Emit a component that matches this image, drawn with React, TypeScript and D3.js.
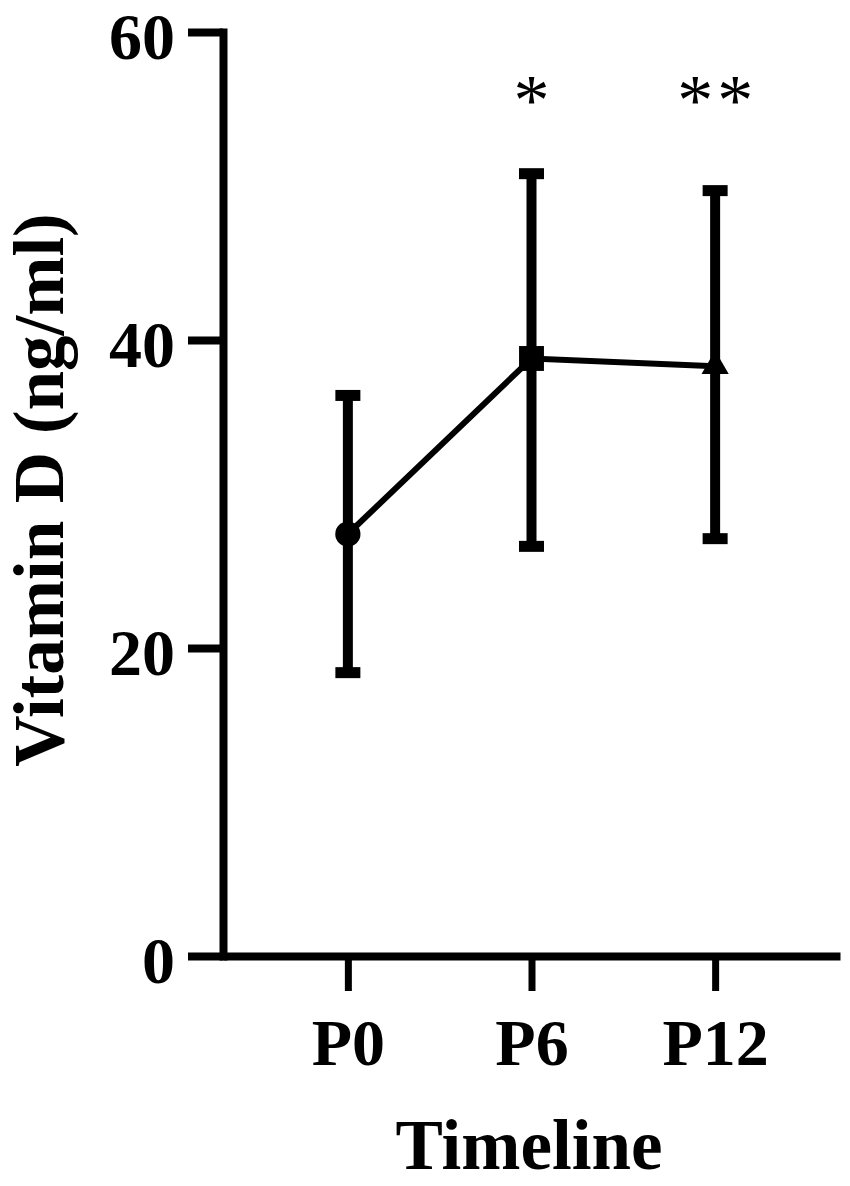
import React, { useEffect, useRef } from 'react';
import * as d3 from 'd3';

const categories = ['P0', 'P6', 'P12'];
const means = [27.4, 38.8, 38.3];
const upper = [36.4, 50.8, 49.7];
const lower = [18.4, 26.6, 27.1];
const markerShapes = ['circle', 'square', 'triangle'];
const stars = ['', '*', '**'];
const yTicks = [0, 20, 40, 60];

const font = '"Liberation Serif", "Times New Roman", serif';

const VitaminChart = () => {
  const svgRef = useRef<SVGSVGElement>(null);

  useEffect(() => {
    const svg = d3.select(svgRef.current);
    const width = 850;
    const height = 1186;
    svg.attr('width', width).attr('height', height);

    const left = 223;
    const right = 840;
    const top = 32;
    const bottom = 956;

    const x = d3.scalePoint<string>().domain(categories).range([left, right]).padding(0.68);
    const y = d3.scaleLinear().domain([0, 60]).range([bottom, top]);

    const data = categories.map((c, i) => ({
      c,
      mean: means[i],
      hi: upper[i],
      lo: lower[i],
      shape: markerShapes[i],
      star: stars[i],
    }));

    // y axis
    const yAxis = svg
      .append('g')
      .attr('transform', `translate(${left},0)`)
      .call(d3.axisLeft(y).tickValues(yTicks).tickSize(35).tickSizeOuter(0).tickPadding(13));
    yAxis.select('.domain').attr('stroke', '#000').attr('stroke-width', 8).attr('stroke-linecap', 'square');
    yAxis.selectAll('.tick line').attr('stroke', '#000').attr('stroke-width', 8);
    yAxis
      .selectAll('.tick text')
      .attr('fill', '#000')
      .attr('dy', '0.4em')
      .style('font-family', font)
      .style('font-weight', 'bold')
      .style('font-size', '66px');

    // x axis
    const xAxis = svg
      .append('g')
      .attr('transform', `translate(0,${bottom})`)
      .call(d3.axisBottom(x).tickSize(35).tickSizeOuter(0).tickPadding(27));
    xAxis.select('.domain').attr('stroke', '#000').attr('stroke-width', 8);
    xAxis.selectAll('.tick line').attr('stroke', '#000').attr('stroke-width', 7);
    xAxis
      .selectAll('.tick text')
      .attr('fill', '#000')
      .style('font-family', font)
      .style('font-weight', 'bold')
      .style('font-size', '66px');

    // axis titles
    svg
      .append('text')
      .attr('x', 529)
      .attr('y', 1169)
      .attr('text-anchor', 'middle')
      .style('font-family', font)
      .style('font-weight', 'bold')
      .style('font-size', '71px')
      .text('Timeline');

    svg
      .append('text')
      .attr('transform', 'rotate(-90)')
      .attr('x', -490)
      .attr('y', 63)
      .attr('text-anchor', 'middle')
      .style('font-family', font)
      .style('font-weight', 'bold')
      .style('font-size', '71px')
      .text('Vitamin D (ng/ml)');

    const g = svg.append('g');

    // error bars
    g.selectAll('line.err')
      .data(data)
      .enter()
      .append('line')
      .attr('class', 'err')
      .attr('x1', (d) => x(d.c)!)
      .attr('x2', (d) => x(d.c)!)
      .attr('y1', (d) => y(d.hi))
      .attr('y2', (d) => y(d.lo))
      .attr('stroke', '#000')
      .attr('stroke-width', 10);

    const capW = 25;
    ['hi', 'lo'].forEach((k) => {
      g.selectAll(`line.cap-${k}`)
        .data(data)
        .enter()
        .append('line')
        .attr('class', `cap-${k}`)
        .attr('x1', (d) => x(d.c)! - capW / 2)
        .attr('x2', (d) => x(d.c)! + capW / 2)
        .attr('y1', (d) => y(d[k as 'hi' | 'lo']))
        .attr('y2', (d) => y(d[k as 'hi' | 'lo']))
        .attr('stroke', '#000')
        .attr('stroke-width', 11);
    });

    // mean line
    const line = d3
      .line<(typeof data)[number]>()
      .x((d) => x(d.c)!)
      .y((d) => y(d.mean));
    g.append('path')
      .datum(data)
      .attr('d', line)
      .attr('fill', 'none')
      .attr('stroke', '#000')
      .attr('stroke-width', 6);

    // markers
    const symbolFor = (s: string) =>
      s === 'circle'
        ? d3.symbol(d3.symbolCircle, 500)
        : s === 'square'
        ? d3.symbol(d3.symbolSquare, 620)
        : d3.symbol(d3.symbolTriangle, 320);
    g.selectAll('path.marker')
      .data(data)
      .enter()
      .append('path')
      .attr('class', 'marker')
      .attr('transform', (d) => `translate(${x(d.c)},${y(d.mean)})`)
      .attr('d', (d) => symbolFor(d.shape)())
      .attr('fill', '#000');

    // significance stars
    data.forEach((d) => {
      const chars = d.star.split('');
      chars.forEach((ch, i) => {
        svg
          .append('text')
          .attr('x', x(d.c)! + (i - (chars.length - 1) / 2) * 40)
          .attr('y', 124)
          .attr('text-anchor', 'middle')
          .style('font-family', font)
          .style('font-size', '72px')
          .text(ch);
      });
    });

    return () => {
      svg.selectAll('*').remove();
    };
  }, []);

  return <svg ref={svgRef} style={{ position: 'absolute', left: 0, top: 0, background: '#fff' }}></svg>;
};

export default function App() {
  return <VitaminChart />;
}
